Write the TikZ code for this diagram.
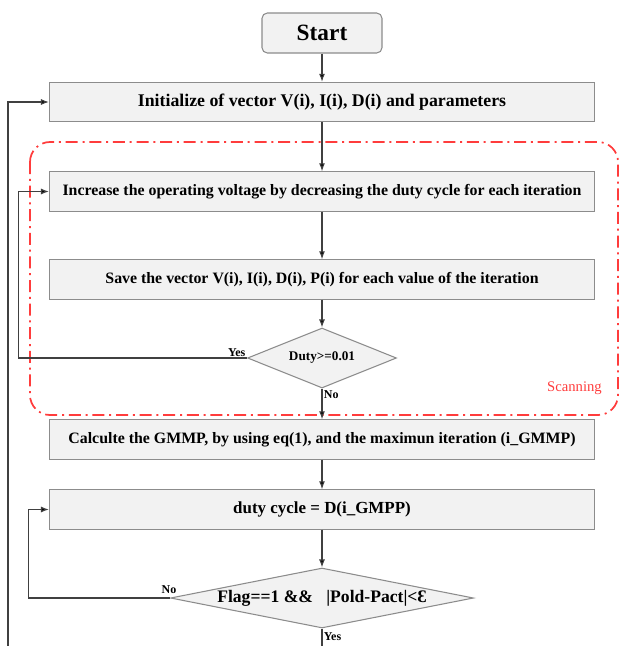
\documentclass[tikz,border=0pt]{standalone}
\usepackage{fontspec}
\setmainfont{Liberation Serif}
\usetikzlibrary{shapes.geometric,arrows.meta}
\definecolor{boxgray}{HTML}{F2F2F2}
\definecolor{edgegray}{HTML}{8C8C8C}
\definecolor{linegray}{HTML}{404040}
\definecolor{scanred}{HTML}{FF3C3C}

\begin{document}
\begin{tikzpicture}[x=0.75pt, y=-0.75pt,
    every node/.style={font=\fontsize{11.9}{14}\selectfont\bfseries},
    procbox/.style={draw=edgegray, line width=0.8pt, fill=boxgray, minimum width=408.75pt, minimum height=29.5pt, inner sep=0pt},
    decision/.style={diamond, draw=edgegray, line width=0.8pt, fill=boxgray, inner sep=0pt},
    flow/.style={draw=linegray, line width=0.85pt, -{Latex[length=6pt,width=4.5pt,fill=black]}},
    tag/.style={font=\fontsize{9}{10}\selectfont\bfseries, inner sep=1pt}]
  \useasboundingbox (0,0) rectangle (622,646);
  % scanning region
  \draw[scanred, line width=1.3pt, rounded corners=15pt, dash pattern=on 9pt off 3.6pt on 1.5pt off 3.6pt] (30,142) rectangle (618,415);
  \node[font=\fontsize{11}{13}\selectfont, text=scanred] (scan) at (574.5,388) {Scanning};
  % nodes
  \node[draw=edgegray, line width=0.8pt, fill=boxgray, rounded corners=4pt, minimum width=90pt, minimum height=30pt, font=\fontsize{17.5}{20}\selectfont\bfseries] (start) at (322,33) {Start};
  \node[procbox, font=\fontsize{13.35}{15}\selectfont\bfseries] (init) at (322,102) {Initialize of vector V(i), I(i), D(i) and parameters};
  \node[procbox] (incr) at (322,191.5) {Increase the operating voltage by decreasing the duty cycle for each iteration};
  \node[procbox] (save) at (322,279.5) {Save the vector V(i), I(i), D(i), P(i) for each value of the iteration};
  \node[decision, minimum width=111.75pt, minimum height=45pt, aspect=2.48, font=\fontsize{9.9}{12}\selectfont\bfseries] (duty) at (322,358) {Duty>=0.01};
  \node[procbox] (calc) at (322,439.5) {Calculte the GMMP, by using eq(1), and the maximun iteration (i\_GMMP)};
  \node[procbox, font=\fontsize{12.7}{15}\selectfont\bfseries] (dcyc) at (322,509.5) {duty cycle = D(i\_GMPP)};
  \node[decision, minimum width=227.25pt, minimum height=45pt, aspect=5.05, font=\fontsize{13.2}{15}\selectfont\bfseries] (flag) at (322,598) {Flag==1 \&\& \ \ |Pold-Pact|<Ɛ};
  % free ends at the bottom
  \coordinate (flagend) at (322,646);
  \coordinate (outbot) at (8,646);
  % main chain
  \draw[flow] (start) -- (init);
  \draw[flow] (init) -- (incr);
  \draw[flow] (incr) -- (save);
  \draw[flow] (save) -- (duty);
  \draw[flow] (duty) -- (calc) node[tag, pos=0.2, anchor=west] {No};
  \draw[flow] (calc) -- (dcyc);
  \draw[flow] (dcyc) -- (flag);
  \draw[draw=linegray, line width=0.85pt] (flag) -- (flagend) node[tag, pos=0.45, anchor=west] {Yes};
  % loops
  \draw[flow] (duty.west) -- ++(-228.5,0) |- (incr.west);
  \node[tag, anchor=south east] (yes1) at (duty.west) {Yes};
  \draw[flow] (flag.west) -- ++(-141.5,0) |- (dcyc.west);
  \node[tag, anchor=south east, xshift=6pt, yshift=2pt] (no2) at (flag.west) {No};
  \draw[flow] (outbot) |- (init.west);
\end{tikzpicture}
\end{document}
